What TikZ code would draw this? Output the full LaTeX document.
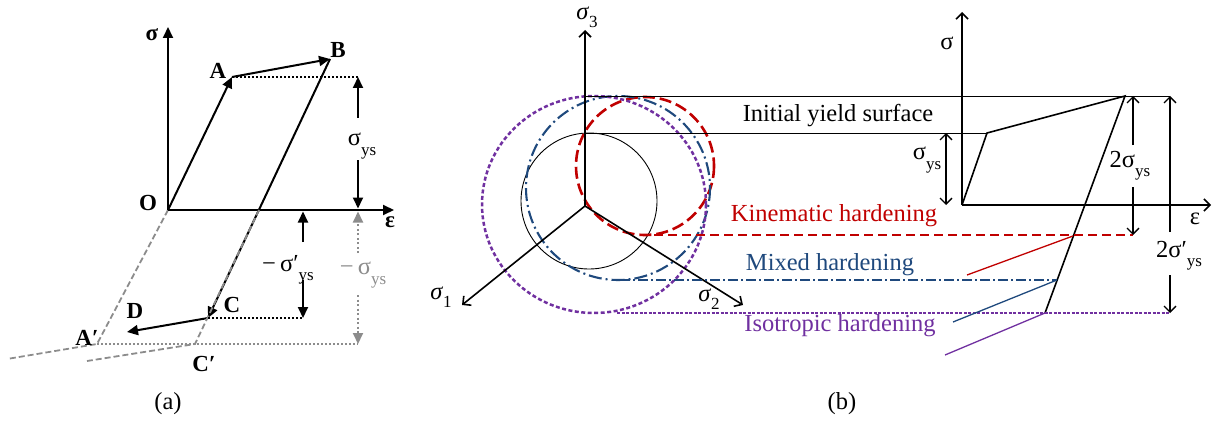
\documentclass[tikz,border=0pt]{standalone}
\usepackage{fontspec}
\setmainfont{Liberation Serif}
\usetikzlibrary{arrows.meta}
\definecolor{kin}{RGB}{192,0,0}
\definecolor{mix}{RGB}{31,73,125}
\definecolor{iso}{RGB}{112,48,160}
\definecolor{gr}{RGB}{140,140,140}
\newcommand\ysub{\raisebox{-0.38em}{\fontsize{17}{17}\selectfont ys}}
\newcommand\nsub[1]{\raisebox{-0.32em}{\fontsize{17}{17}\selectfont #1}}
\begin{document}
\begin{tikzpicture}[x=1pt,y=-1pt,
  ablk/.style={line width=2pt,-{Triangle[length=11pt,width=10pt]}},
  agry/.style={gr,line width=2pt,dash pattern=on 2pt off 2.5pt,-{Triangle[length=11pt,width=10pt]}},
  gdash/.style={gr,line width=1.8pt,dash pattern=on 6pt off 3pt},
  bdot/.style={line width=2pt,dash pattern=on 2pt off 2pt},
  gdot/.style={gr,line width=1.8pt,dash pattern=on 2pt off 2pt},
  blab/.style={font=\fontsize{23}{26}\selectfont\bfseries,inner sep=0pt},
  lab/.style={font=\fontsize{24.5}{28}\selectfont,inner sep=0pt},
  bax/.style={line width=1.6pt,-{Straight Barb[length=6pt,width=12pt]}},
  bdimend/.style={line width=1.3pt,-{Straight Barb[length=6pt,width=12pt]}},
  bdim/.style={line width=1.3pt,{Straight Barb[length=6pt,width=12pt]}-{Straight Barb[length=6pt,width=12pt]}},
  thin/.style={line width=0.9pt},
]
\useasboundingbox (0,0) rectangle (1217,425);
% ================= panel (a) =================
\coordinate (O) at (168,210);
\coordinate (A) at (232,77);
\coordinate (B) at (330,59);
\coordinate (C) at (208,318);
\coordinate (D) at (127,332);
\coordinate (Ap) at (97,344);
\coordinate (Cp) at (195,344);
\coordinate (Ae) at (7,359);
\coordinate (Ce) at (87,361);
\coordinate (X) at (259,210);
\coordinate (Stop) at (168,27);
\coordinate (Eend) at (394,210);
\coordinate (Ar) at (358,77);
\coordinate (Cr) at (303,318);
\coordinate (Apr) at (358,344);
% gray dashed reversed path
\draw[gdash] (O) -- (Ap) -- (Ae);
% axes
\draw[ablk] (O) -- (Stop);
\draw[ablk] (O) -- (Eend);
% loading path
\draw[ablk] (O) -- (A);
\draw[ablk] (A) -- (B);
\draw[ablk] (B) -- (C);
\draw[ablk] (C) -- (D);
\draw[gdash] (X) -- (Cp) -- (Ce);
% dotted levels
\draw[bdot] (A) -- (Ar);
\draw[bdot] (C) -- (Cr);
\draw[gdot] (Ap) -- (Apr);
% sigma_ys
\node[lab] (sys) at (362,146) {σ\ysub};
\coordinate (s1) at (358,118);
\coordinate (s2) at (358,160);
\coordinate (s3) at (358,208.5);
\draw[ablk] (s1) -- (Ar);
\draw[ablk] (s2) -- (s3);
% -sigma'_ys
\node[lab] (msp) at (288,270) {−\,σ′\ysub};
\coordinate (m1) at (303,242);
\coordinate (m0) at (303,211.5);
\coordinate (m2) at (303,280);
\draw[ablk] (m1) -- (m0);
\draw[ablk] (m2) -- (Cr);
% -sigma_ys gray
\node[lab,text=gr] (ms) at (363,275) {−\,σ\ysub};
\coordinate (g1) at (358,253);
\coordinate (g0) at (358,211.5);
\coordinate (g2) at (358,295);
\draw[agry] (g1) -- (g0);
\draw[agry] (g2) -- (Apr);
% labels
\node[blab] (lsig) at (152,35) {σ};
\node[blab] (leps) at (390,222) {ε};
\node[blab] (lO) at (148,203) {O};
\node[blab] (lA) at (218,71) {A};
\node[blab] (lB) at (338,50) {B};
\node[blab] (lC) at (232,305) {C};
\node[blab] (lD) at (135,311) {D};
\node[blab] (lAp) at (87,338) {A′};
\node[blab] (lCp) at (204,364) {C′};
\node[lab] (la) at (168,404) {(a)};
% ================= panel (b) =================
\coordinate (P) at (585,206);
\coordinate (S3) at (585,30);
\coordinate (S1) at (462,305);
\coordinate (S2) at (743,305);
% circles
\draw[thin] (589,201) circle (68);
\draw[kin,line width=2.6pt,dash pattern=on 12pt off 5pt] (645,166) circle (69);
\draw[mix,line width=2.1pt,dash pattern=on 13pt off 4pt on 2pt off 4pt] (618,188) circle (92);
\draw[iso,line width=2.5pt,dash pattern=on 4pt off 2.5pt] (594,204.5) ellipse (112 and 108.5);
% axes
\draw[bax] (P) -- (S3);
\draw[bax] (P) -- (S1);
\draw[bax] (P) -- (S2);
\node[lab] (l3) at (587,17) {\textit{σ}\nsub{3}};
\node[lab] (l1) at (441,297) {\textit{σ}\nsub{1}};
\node[lab] (l2) at (709,299) {\textit{σ}\nsub{2}};
% right diagram
\coordinate (Q) at (962,205);
\coordinate (Qt) at (962,12);
\coordinate (Qr) at (1211,205);
\coordinate (Y) at (987,133);
\coordinate (T) at (1125,96);
\coordinate (R) at (1045,313);
\draw[bax] (Q) -- (Qt);
\draw[bax] (Q) -- (Qr);
\draw[line width=1.6pt] (Q) -- (Y) -- (T) -- (R);
% horizontal level lines
\coordinate (h1a) at (585,96);
\coordinate (h1b) at (1170,96);
\coordinate (h2a) at (585,133);
\coordinate (h3a) at (640,235);
\coordinate (h3b) at (1133,235);
\coordinate (h4a) at (620,280);
\coordinate (h4b) at (1057,280);
\coordinate (h5a) at (617,313);
\coordinate (h5b) at (1170,313);
\draw[thin] (h1a) -- (h1b);
\draw[thin] (h2a) -- (Y);
\draw[kin,line width=1.3pt,dash pattern=on 9pt off 5pt] (h3a) -- (h3b);
\draw[mix,line width=1.3pt,dash pattern=on 10pt off 3pt on 2pt off 3pt] (h4a) -- (h4b);
\draw[iso,line width=1.3pt,dash pattern=on 3pt off 1.5pt] (h5a) -- (h5b);
% dimension arrows
\coordinate (d1a) at (946,133);
\coordinate (d1b) at (946,205);
\draw[bdim] (d1a) -- (d1b);
\node[lab] (lsy) at (927,160) {σ\ysub};
\node[lab] (l2s) at (1130,166) {2σ\ysub};
\coordinate (e1) at (1133,145);
\coordinate (e0) at (1133,96);
\coordinate (e2) at (1133,187);
\draw[bdimend] (e1) -- (e0);
\draw[bdimend] (e2) -- (h3b);
\node[lab] (l2sp) at (1179,256) {2σ′\ysub};
\coordinate (f1) at (1170,232);
\coordinate (f2) at (1170,275);
\draw[bdimend] (f1) -- (h1b);
\draw[bdimend] (f2) -- (h5b);
\node[lab] (lsb) at (947,43) {σ};
\node[lab] (leb) at (1195,219) {ε};
% pointer lines
\coordinate (p1) at (967,275);
\coordinate (p1e) at (1073,236);
\coordinate (p2) at (953,322);
\coordinate (p3) at (945,355);
\draw[kin,line width=1.3pt] (p1) -- (p1e);
\draw[mix,line width=1.3pt] (p2) -- (h4b);
\draw[iso,line width=1.3pt] (p3) -- (R);
% text labels
\node[lab] (liy) at (838,116) {Initial yield surface};
\node[lab,text=kin] (lkh) at (834,216) {Kinematic hardening};
\node[lab,text=mix] (lmh) at (830,265) {Mixed hardening};
\node[lab,text=iso] (lih) at (840,326) {Isotropic hardening};
\node[lab] (lb) at (842,404) {(b)};
\end{tikzpicture}
\end{document}
